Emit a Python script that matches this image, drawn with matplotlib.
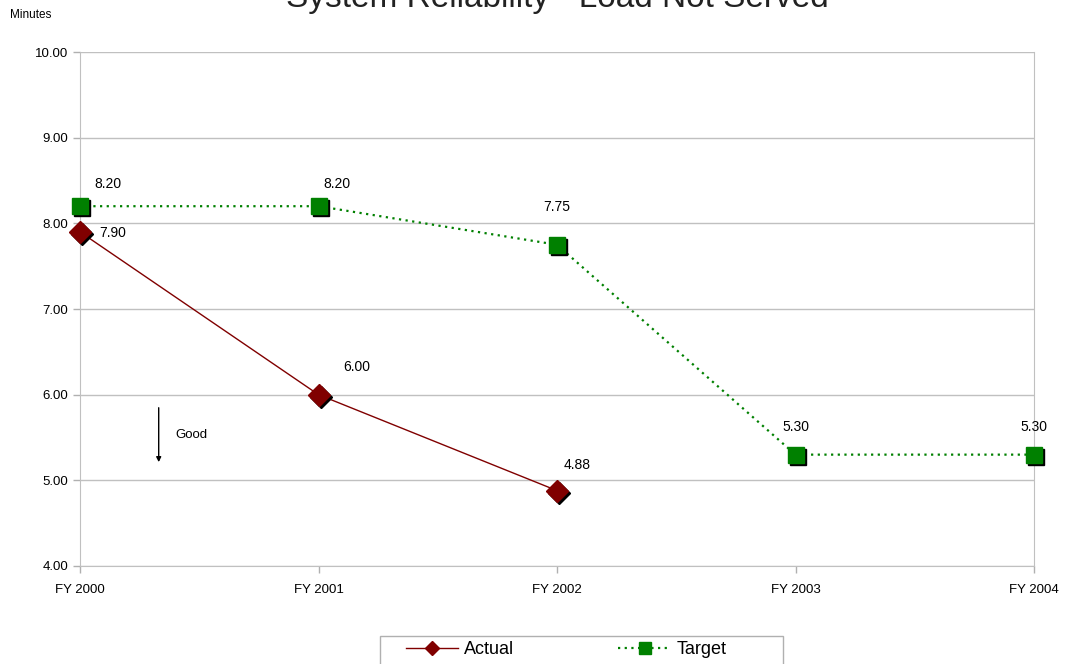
import matplotlib
matplotlib.use("Agg")
import matplotlib.pyplot as plt
import matplotlib.transforms as mtrans
from matplotlib.patches import Rectangle

plt.rcParams['font.family'] = ['Liberation Sans', 'DejaVu Sans']

years = ["FY 2000", "FY 2001", "FY 2002", "FY 2003", "FY 2004"]
actual = [7.90, 6.00, 4.88]
target = [8.20, 8.20, 7.75, 5.30, 5.30]

# label offsets in pixels (dx, dy)
actual_off = [(33, -1), (38, 28), (20, 26)]
target_off = [(28, 22), (18, 22), (0, 38), (0, 28), (0, 28)]

fig = plt.figure(figsize=(10.7, 6.64), dpi=100)
ax = fig.add_axes([80/1070, 1-566/664, (1034-80)/1070, (566-52)/664])

xa = list(range(len(actual)))
xt = list(range(len(target)))

sh = mtrans.offset_copy(ax.transData, fig=fig, x=2, y=-2, units='dots')

ax.plot(xa, actual, color='#800000', lw=1, zorder=3)
ax.plot(xt, target, color='#008000', lw=1.6, ls=(0, (1, 2)), zorder=3)
ax.plot(xa, actual, ls='none', marker='D', ms=11, color='black', transform=sh, zorder=4, clip_on=False)
ax.plot(xt, target, ls='none', marker='s', ms=12, color='black', transform=sh, zorder=4, clip_on=False)
ax.plot(xa, actual, ls='none', marker='D', ms=11, color='#800000', mec='#800000', zorder=5, clip_on=False)
ax.plot(xt, target, ls='none', marker='s', ms=12, color='#008000', mec='#008000', zorder=5, clip_on=False)

for i, v in enumerate(actual):
    ax.annotate(f"{v:.2f}", (i, v), xytext=actual_off[i], textcoords='offset pixels',
                ha='center', va='center', fontsize=10)
for i, v in enumerate(target):
    ax.annotate(f"{v:.2f}", (i, v), xytext=target_off[i], textcoords='offset pixels',
                ha='center', va='center', fontsize=10)

ax.set_xlim(0, 4)
ax.set_ylim(4, 10)
ax.set_yticks([4, 5, 6, 7, 8, 9, 10])
ax.set_yticklabels([f"{v:.2f}" for v in [4, 5, 6, 7, 8, 9, 10]])
ax.set_xticks(xt)
ax.set_xticklabels(years)
ax.tick_params(labelsize=9.5, colors='#b0b0b0', labelcolor='black', length=5, width=1)
ax.tick_params(axis='x', pad=8)
ax.grid(axis='y', color='#c0c0c0', lw=1)
ax.set_axisbelow(True)
ax.spines['top'].set_visible(False)
for s in ['left', 'bottom', 'right']:
    ax.spines[s].set_color('#c0c0c0')

# "Good" arrow
ax.annotate("", xy=(0.33, 5.18), xytext=(0.33, 5.88),
            arrowprops=dict(arrowstyle='-|>', color='black', lw=1, mutation_scale=7))
ax.text(0.4, 5.53, "Good", fontsize=9.5, va='center')

fig.text(10/1070, 1-15/664, "Minutes", fontsize=8.5, va='center')
fig.text(557/1070, 1-7/664, "System Reliability - Load Not Served", fontsize=24,
         ha='center', va='baseline', color='#222222')

# legend box (runs off the bottom like the reference)
fig.patches.append(Rectangle((380/1070, 1-672/664), 403/1070, 36/664, transform=fig.transFigure,
                             fill=False, edgecolor='#b0b0b0', lw=1))
handles = [plt.Line2D([], [], color='#800000', lw=1, marker='D', ms=7),
           plt.Line2D([], [], color='#008000', lw=1.6, ls=(0, (1, 2)), marker='s', ms=8)]
leg = fig.legend(handles=handles, labels=["Actual", "Target"],
                 loc='center', bbox_to_anchor=(566/1070, 1-650/664), ncol=2, frameon=False,
                 fontsize=13, columnspacing=5.8, handlelength=2.9, handletextpad=0.3,
                 borderpad=0, borderaxespad=0)

fig.savefig("out.png", dpi=100)
